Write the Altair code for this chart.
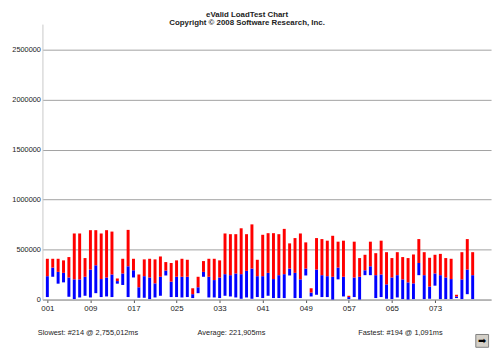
import altair as alt
import pandas as pd

# Sample ids (x) and response-time ranges in thousands of ms
ids = list(range(1, 81))
low_k = [25, 228, 159, 172, 28, 5, 21, 38, 21, 64, 25, 31, 25, 159, 146, 25, 221, 18, 18, 5,
         21, 38, 241, 25, 25, 21, 25, 15, 64, 228, 21, 21, 15, 38, 31, 21, 8, 21, 8, 25,
         15, 38, 15, 15, 15, 241, 15, 15, 241, 31, 48, 25, 25, 0, 202, 31, 5, 25, 0, 244,
         244, 15, 25, 8, 5, 21, 5, 0, 5, 244, 5, 8, 139, 5, 5, 5, 15, 5, 54, 5]
mid_k = [234, 320, 277, 267, 221, 202, 202, 228, 300, 343, 205, 221, 251, 185, 261, 333, 293, 123, 234, 221,
         162, 228, 290, 179, 228, 228, 228, 54, 123, 277, 228, 195, 221, 254, 244, 261, 254, 287, 310, 234,
         234, 267, 205, 244, 254, 310, 267, 202, 310, 70, 300, 244, 234, 228, 320, 228, 25, 221, 228, 293,
         333, 244, 251, 152, 221, 244, 202, 172, 162, 366, 244, 130, 261, 244, 221, 205, 31, 202, 300, 244]
high_k = [408, 408, 408, 392, 425, 661, 661, 415, 694, 694, 661, 694, 680, 211, 408, 697, 408, 251, 402, 408,
          402, 431, 375, 366, 392, 408, 398, 113, 228, 385, 408, 408, 392, 661, 654, 654, 713, 654, 752, 398,
          648, 664, 664, 654, 707, 562, 615, 661, 572, 113, 615, 605, 589, 638, 579, 589, 38, 579, 415, 448,
          579, 464, 589, 474, 415, 474, 425, 415, 451, 605, 474, 418, 448, 457, 415, 408, 48, 474, 605, 474]

x_ticks = [1, 9, 17, 25, 33, 41, 49, 57, 65, 73]
y_ticks = [0, 500000, 1000000, 1500000, 2000000, 2500000]
y_max = 2755012

title_line1 = "eValid LoadTest Chart"
title_line2 = "Copyright © 2008 Software Research, Inc."
footer_slowest = "Slowest: #214 @ 2,755,012ms"
footer_average = "Average: 221,905ms"
footer_fastest = "Fastest: #194 @ 1,091ms"

df = pd.DataFrame({
    "id": ids,
    "low": [v * 1000 for v in low_k],
    "mid": [v * 1000 for v in mid_k],
    "high": [v * 1000 for v in high_k],
})

FONT = "Liberation Sans"

xs = alt.Scale(domain=[1, 82.5], nice=False, zero=False)
ys = alt.Scale(domain=[0, y_max], nice=False)

base = alt.Chart(df).encode(
    x=alt.X("id:Q", scale=xs, title=None,
            axis=alt.Axis(values=x_ticks, format="03d", grid=False,
                          domain=True, domainColor="#a0a0a0",
                          ticks=True, tickSize=3, tickColor="#555555",
                          labelFont=FONT, labelFontSize=8, labelColor="#222222",
                          labelPadding=2))
)

blue = base.mark_bar(color="#0000ff", size=3).encode(
    y=alt.Y("low:Q", scale=ys, title=None,
            axis=alt.Axis(values=y_ticks, format="d", grid=True, gridColor="#a0a0a0",
                          ticks=False, domain=True, domainColor="#c8c8c8",
                          labelFont=FONT, labelFontSize=7.5, labelColor="#222222",
                          labelPadding=2)),
    y2="mid:Q",
)
red = base.mark_bar(color="#ff0000", size=3).encode(y="mid:Q", y2="high:Q")

one = pd.DataFrame({"k": [0]})


def txt(text, x, y, align="left", bold=False, size=8):
    return alt.Chart(one).mark_text(
        text=text, align=align, baseline="middle", font=FONT, fontSize=size,
        fontWeight="bold" if bold else "normal", color="#222222"
    ).encode(x=alt.value(x), y=alt.value(y))


t1 = txt(title_line1, 208, -9.5, align="center", bold=True, size=8)
t2 = txt(title_line2, 208, -1.0, align="center", bold=True, size=8)
f1 = txt(footer_slowest, -4.7, 314.2, size=7.5)
f2 = txt(footer_average, 157.7, 314.2, size=7.5)
f3 = txt(footer_fastest, 321, 314.2, size=7.5)

button = alt.Chart(one).mark_rect(fill="#d4d0c8", stroke="#808080", strokeWidth=1).encode(
    x=alt.value(440.5), x2=alt.value(453.5), y=alt.value(315.5), y2=alt.value(328.5)
)
arrow = alt.Chart(one).mark_text(text="➡", align="center", baseline="middle",
                                 font="DejaVu Sans", fontSize=10, color="#000000").encode(
    x=alt.value(447), y=alt.value(322)
)

chart = alt.layer(blue, red, t1, t2, f1, f2, f3, button, arrow).properties(
    width=456, height=280,
    autosize=alt.AutoSizeParams(type="none"),
    padding={"left": 35, "top": 13.5, "right": 3, "bottom": 55},
    background="#ffffff",
).configure_view(stroke=None)

chart.save("out.html", embed_options={"renderer": "svg", "actions": False})
